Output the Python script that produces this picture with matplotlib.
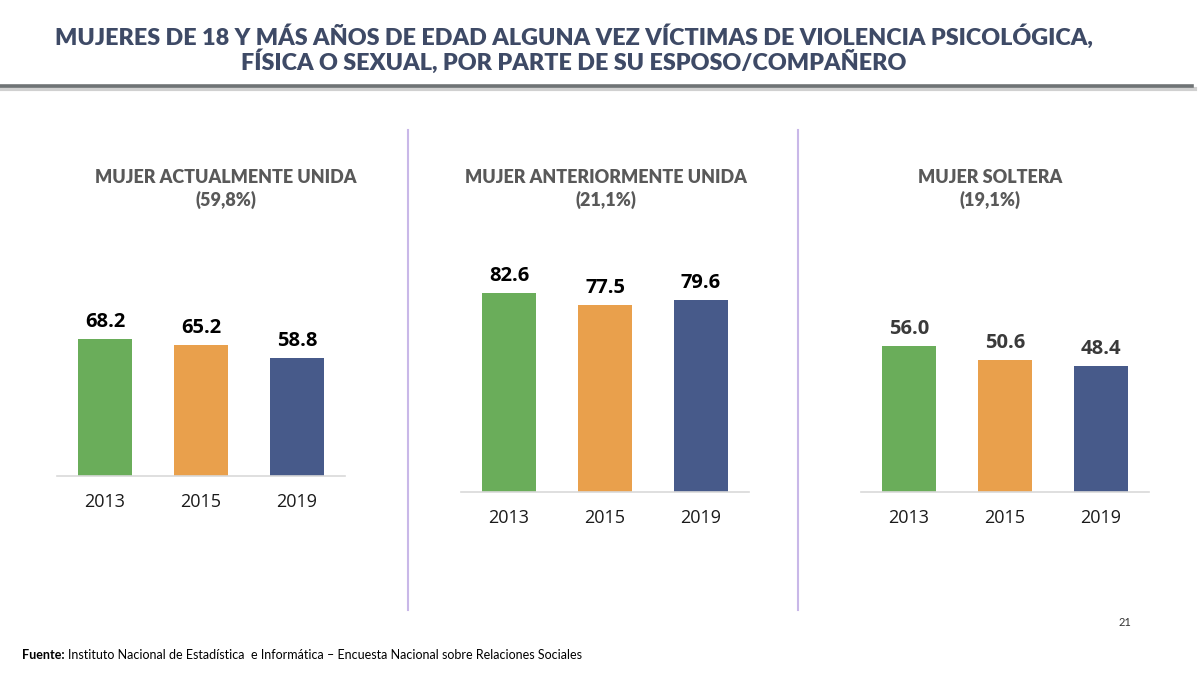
import matplotlib
matplotlib.use("Agg")
import matplotlib.pyplot as plt
from matplotlib.lines import Line2D

years = ["2013", "2015", "2019"]
actual_unida = [68.2, 65.2, 58.8]
anterior_unida = [82.6, 77.5, 79.6]
soltera = [56.0, 50.6, 48.4]
panel_titles = ["MUJER ACTUALMENTE UNIDA\n(59,8%)",
                "MUJER ANTERIORMENTE UNIDA\n(21,1%)",
                "MUJER SOLTERA\n(19,1%)"]
bar_colors = ["#6AAD5A", "#E9A04C", "#475A8A"]

W, H = 1200, 675
fig = plt.figure(figsize=(W / 100, H / 100), dpi=100)
fig.patch.set_facecolor("white")

def fx(px):
    return px / W

def fy(py):
    return 1 - py / H

FONT = ["Lato", "DejaVu Sans"]

# Title
fig.text(fx(574), fy(37), "MUJERES DE 18 Y MÁS AÑOS DE EDAD ALGUNA VEZ VÍCTIMAS DE VIOLENCIA PSICOLÓGICA,",
         ha="center", va="center", fontsize=16.8, fontweight="heavy", color="#3E4A66", family=FONT)
fig.text(fx(574), fy(62), "FÍSICA O SEXUAL, POR PARTE DE SU ESPOSO/COMPAÑERO",
         ha="center", va="center", fontsize=16.8, fontweight="heavy", color="#3E4A66", family=FONT)

# Title underline with shadow
fig.add_artist(Line2D([0, fx(1195)], [fy(89), fy(89)], color="#D0D0D0", lw=3, transform=fig.transFigure))
fig.add_artist(Line2D([0, fx(1192)], [fy(86), fy(86)], color="#6F7375", lw=2.6, transform=fig.transFigure))

# Separators
for sx in [408, 798]:
    fig.add_artist(Line2D([fx(sx), fx(sx)], [fy(130), fy(610)], color="#C9B8E8", lw=1.5,
                          transform=fig.transFigure))

# Panels: (left px, baseline px, px per unit, data, title center x, title y, label color)
panels = [
    (57, 476, 2.01, actual_unida, 226, 189, "#000000"),
    (461, 492, 2.41, anterior_unida, 606, 189, "#000000"),
    (861, 492, 2.60, soltera, 990, 189, "#3A3A3A"),
]
for (left, base, ppu, vals, tcx, tcy, lcol), title in zip(panels, panel_titles):
    height_px = 100 * ppu
    ax = fig.add_axes([fx(left), (H - base) / H, 288 / W, height_px / H])
    x = list(range(len(years)))
    ax.bar(x, vals, width=0.555, color=bar_colors, zorder=2)
    ax.set_xlim(-0.5, 2.5)
    ax.set_ylim(0, 100)
    for s in ["top", "right", "left"]:
        ax.spines[s].set_visible(False)
    ax.spines["bottom"].set_color("#D9D9D9")
    ax.spines["bottom"].set_linewidth(1.2)
    ax.set_yticks([])
    ax.set_xticks(x)
    ax.set_xticklabels(years, fontsize=13, color="#1A1A1A", family=["Open Sans", "DejaVu Sans"])
    ax.tick_params(axis="x", length=0, pad=12)
    ax.patch.set_alpha(0)
    for xi, v in zip(x, vals):
        ax.annotate(f"{v:.1f}", (xi, v), xytext=(0, 5), textcoords="offset points",
                    ha="center", va="bottom", fontsize=14.5, fontweight="bold", color=lcol,
                    family=["Open Sans", "DejaVu Sans"])
    fig.text(fx(tcx), fy(tcy), title, ha="center", va="center", fontsize=13, fontweight="heavy",
             color="#595959", family=FONT, linespacing=1.35)

# Page number & source
fig.text(fx(1125), fy(622), "21", ha="center", va="center", fontsize=8, color="#333333", family=FONT)
t1 = fig.text(fx(22), fy(655), "Fuente:", ha="left", va="center", fontsize=9,
              fontweight="bold", color="#000000", family=FONT)
fig.canvas.draw()
bb = t1.get_window_extent()
fig.text((bb.x1 + 3) / W, fy(655), "Instituto Nacional de Estadística  e Informática – Encuesta Nacional sobre Relaciones Sociales",
         ha="left", va="center", fontsize=9, color="#000000", family=FONT)

fig.savefig("out.png", dpi=100)
